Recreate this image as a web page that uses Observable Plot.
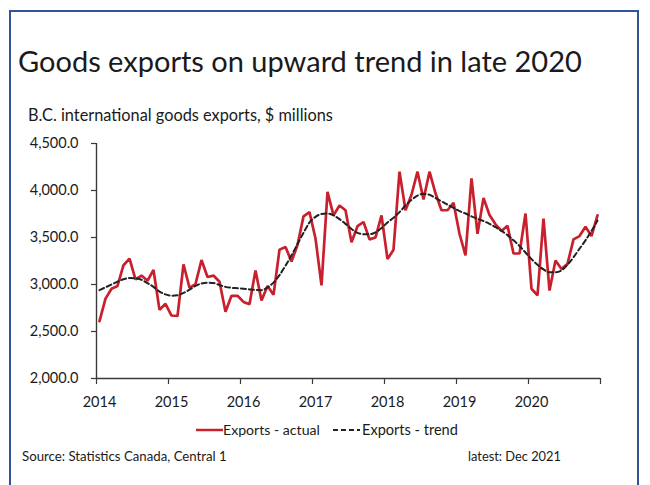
<!DOCTYPE html>
<html>
<head>
<meta charset="utf-8">
<script src="https://cdn.jsdelivr.net/npm/d3@7"></script>
<script src="https://cdn.jsdelivr.net/npm/@observablehq/plot@0.6"></script>
<style>
  html, body { margin: 0; padding: 0; background: #fff; }
  #wrap { position: relative; width: 650px; height: 485px; overflow: hidden;
          font-family: Lato, "Open Sans", sans-serif; color: #1a1a1a; }
  #frame { position: absolute; left: 9px; top: 10px; width: 626px; height: 520px;
           border: 2px solid #2f5597; border-bottom: none; }
  #chart { position: absolute; left: 0; top: 0; }
  .t { position: absolute; white-space: nowrap; line-height: 1; }
  .sw { position: absolute; }
</style>
</head>
<body>
<div id="wrap">
  <div id="frame"></div>
  <div id="chart"></div>
  <div class="t" id="title" style="font-size:32px">Goods exports on upward trend in late 2020</div>
  <div class="t" id="subtitle" style="font-size:15px">B.C. international goods exports, $ millions</div>
  <svg class="sw" id="sw1" width="30" height="6" style="left:195px;top:427px"><line x1="1" y1="3" x2="28" y2="3" stroke="#c8202c" stroke-width="2.5"/></svg>
  <div class="t" id="leg1" style="font-size:14px">Exports - actual</div>
  <svg class="sw" id="sw2" width="30" height="6" style="left:332px;top:427px"><line x1="1" y1="3" x2="28" y2="3" stroke="#222" stroke-width="2" stroke-dasharray="5,3"/></svg>
  <div class="t" id="leg2" style="font-size:14px">Exports - trend</div>
  <div class="t" id="source" style="font-size:12px">Source: Statistics Canada, Central 1</div>
  <div class="t" id="latest" style="font-size:12px">latest: Dec 2021</div>
</div>
<script>
// ---- data (monthly, Jan 2014 – Dec 2020) ----
const startYear = 2014;
const actual2014 = [2610, 2850, 2955, 2985, 3205, 3275, 3055, 3095, 3040, 3155, 2730, 2795];
const actual2015 = [2670, 2665, 3215, 2965, 3005, 3260, 3080, 3095, 3030, 2710, 2880, 2880];
const actual2016 = [2815, 2790, 3150, 2830, 2985, 2890, 3370, 3400, 3245, 3420, 3725, 3770];
const actual2017 = [3490, 2990, 3985, 3735, 3840, 3790, 3450, 3620, 3665, 3480, 3500, 3735];
const actual2018 = [3270, 3370, 4200, 3790, 3955, 4200, 3905, 4200, 3970, 3790, 3790, 3870];
const actual2019 = [3540, 3310, 4130, 3540, 3920, 3740, 3640, 3570, 3625, 3330, 3330, 3755];
const actual2020 = [2955, 2885, 3700, 2935, 3255, 3165, 3220, 3480, 3515, 3615, 3515, 3735];

const trend2014 = [2940, 2970, 3000, 3030, 3055, 3068, 3065, 3050, 3015, 2975, 2925, 2895];
const trend2015 = [2880, 2885, 2910, 2945, 2985, 3010, 3020, 3015, 2995, 2975, 2965, 2960];
const trend2016 = [2955, 2948, 2942, 2940, 2970, 3020, 3100, 3200, 3310, 3430, 3550, 3660];
const trend2017 = [3720, 3750, 3755, 3735, 3695, 3645, 3590, 3550, 3535, 3535, 3555, 3600];
const trend2018 = [3660, 3710, 3770, 3840, 3900, 3945, 3965, 3955, 3920, 3885, 3850, 3815];
const trend2019 = [3780, 3755, 3725, 3700, 3675, 3645, 3610, 3570, 3525, 3470, 3410, 3340];
const trend2020 = [3270, 3210, 3160, 3130, 3130, 3150, 3210, 3290, 3380, 3470, 3570, 3680];

const xTicks = [2014, 2015, 2016, 2017, 2018, 2019, 2020, 2021];
const xLabels = ["2014", "2015", "2016", "2017", "2018", "2019", "2020"];
const yTicks = [2000, 2500, 3000, 3500, 4000, 4500];

const actual = [].concat(actual2014, actual2015, actual2016, actual2017, actual2018, actual2019, actual2020);
const trend = [].concat(trend2014, trend2015, trend2016, trend2017, trend2018, trend2019, trend2020);
const table = actual.map((v, i) => ({
  t: startYear + Math.floor(i / 12) + ((i % 12) + 0.5) / 12,
  actual: v,
  trend: trend[i]
}));

const RED = "#c8202c";
const AXIS = "#3a3a3a";

const chart = Plot.plot({
  width: 650,
  height: 485,
  marginLeft: 96,
  marginRight: 50,
  marginTop: 143,
  marginBottom: 107,
  style: { background: "transparent", fontFamily: "Lato, 'Open Sans', sans-serif", fontSize: "14.5px", color: "#1a1a1a" },
  x: { domain: [2014, 2021], axis: null, label: null },
  y: { domain: [2000, 4500], axis: null, label: null },
  marks: [
    Plot.line(table, { x: "t", y: "actual", stroke: RED, strokeWidth: 2.7, strokeLinejoin: "miter" }),
    Plot.line(table, { x: "t", y: "trend", stroke: "#222", strokeWidth: 2, strokeDasharray: "5,3", curve: "monotone-x" }),
    Plot.axisY({ ticks: yTicks, tickSize: 5, tickPadding: 13, tickFormat: d3.format(",.1f"), label: null, stroke: AXIS, fill: "#1a1a1a", strokeWidth: 1.2 }),
    Plot.axisX({ ticks: xTicks, tickSize: 6, tickFormat: () => "", label: null, stroke: AXIS, strokeWidth: 1.2 }),
    Plot.ruleX([2014], { y1: 2000, y2: 4500, stroke: AXIS, strokeWidth: 1.4 }),
    Plot.ruleY([2000], { x1: 2014, x2: 2021, stroke: AXIS, strokeWidth: 1.4 }),
    Plot.text(xLabels, { x: d => +d, y: () => 2000, text: d => d, dy: 24, dx: 3, fill: "#1a1a1a", fontSize: 14.5 })
  ]
});
document.getElementById("chart").appendChild(chart);

// ---- place HTML texts by baseline and width ----
const wrapBox = () => document.getElementById("wrap").getBoundingClientRect();
function place(id, x, baseline, width) {
  const el = document.getElementById(id);
  const probe = document.createElement("span");
  probe.style.cssText = "display:inline-block;width:0;height:0;";
  el.appendChild(probe);
  el.style.left = x + "px";
  el.style.top = "0px";
  if (width) {
    const w = el.getBoundingClientRect().width;
    const fs = parseFloat(getComputedStyle(el).fontSize);
    el.style.fontSize = (fs * width / w) + "px";
  }
  const b = probe.getBoundingClientRect().top - wrapBox().top;
  el.style.top = (baseline - b) + "px";
}
place("title", 18, 72, 564);
place("subtitle", 28, 121, 305);
place("leg1", 223, 435, 97);
place("leg2", 362, 435, 96);
place("source", 22, 461, 205);
place("latest", 468, 461, 93);
</script>
</body>
</html>
